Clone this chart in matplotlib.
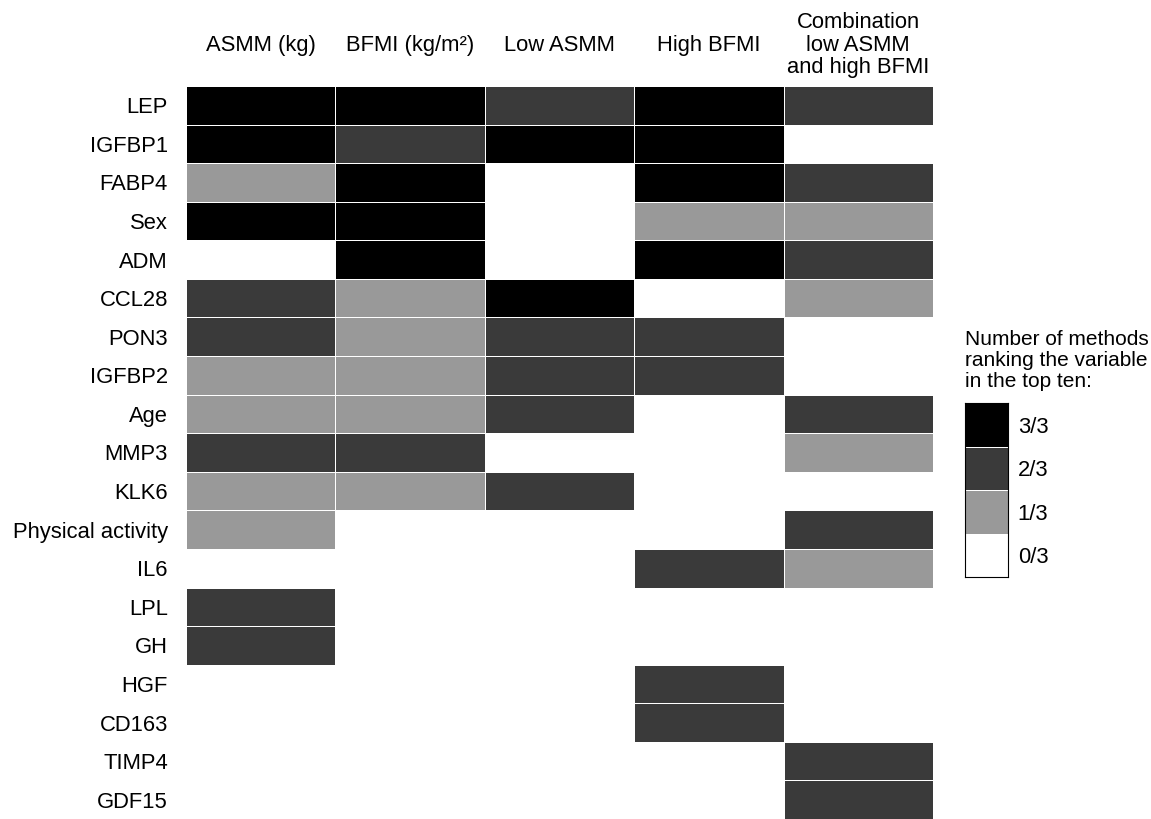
import matplotlib
matplotlib.use("Agg")
import matplotlib.pyplot as plt
import numpy as np
from matplotlib.colors import ListedColormap, BoundaryNorm

plt.rcParams['font.family'] = ['Liberation Sans', 'DejaVu Sans']

columns = ["ASMM (kg)", "BFMI (kg/m²)", "Low ASMM", "High BFMI",
           "Combination\nlow ASMM\nand high BFMI"]
rows = ["LEP", "IGFBP1", "FABP4", "Sex", "ADM", "CCL28", "PON3", "IGFBP2",
        "Age", "MMP3", "KLK6", "Physical activity", "IL6", "LPL", "GH",
        "HGF", "CD163", "TIMP4", "GDF15"]
asmm = [3, 3, 1, 3, 0, 2, 2, 1, 1, 2, 1, 1, 0, 2, 2, 0, 0, 0, 0]
bfmi = [3, 2, 3, 3, 3, 1, 1, 1, 1, 2, 1, 0, 0, 0, 0, 0, 0, 0, 0]
low_asmm = [2, 3, 0, 0, 0, 3, 2, 2, 2, 0, 2, 0, 0, 0, 0, 0, 0, 0, 0]
high_bfmi = [3, 3, 3, 1, 3, 0, 2, 2, 0, 0, 0, 0, 2, 0, 0, 2, 2, 0, 0]
combination = [2, 0, 2, 1, 2, 1, 0, 0, 2, 1, 0, 2, 1, 0, 0, 0, 0, 2, 2]
legend_labels = ["3/3", "2/3", "1/3", "0/3"]
legend_values = [3, 2, 1, 0]

colors = ["#ffffff", "#999999", "#3a3a3a", "#000000"]
cmap = ListedColormap(colors)
norm = BoundaryNorm([-0.5, 0.5, 1.5, 2.5, 3.5], 4)

data = np.array([asmm, bfmi, low_asmm, high_bfmi, combination]).T

W, H = 1151, 819
FS = 15.8
fig = plt.figure(figsize=(W / 100, H / 100), dpi=100)
ax = fig.add_axes([186 / W, 0 / H, (933 - 186) / W, (819 - 86) / H])
ax.pcolormesh(np.arange(data.shape[1] + 1), np.arange(data.shape[0] + 1), data,
              cmap=cmap, norm=norm, edgecolors="white", linewidth=0.6)
ax.set_xlim(0, data.shape[1])
ax.set_ylim(data.shape[0], 0)
for s in ax.spines.values():
    s.set_visible(False)
ax.set_yticks(np.arange(data.shape[0]) + 0.5)
ax.set_yticklabels(rows, fontsize=FS)
ax.tick_params(axis="y", length=0, pad=13)
ax.set_xticks([])

# column headers (baseline of last line; multi-line header extends upward)
for i, c in enumerate(columns):
    x_fig = (186 + (i + 0.5) * (933 - 186) / len(columns)) / W
    nlines = c.count("\n") + 1
    base_px = 51 if nlines == 1 else 73
    fig.text(x_fig, 1 - base_px / H, c, fontsize=FS, ha="center", va="baseline",
             multialignment="center", linespacing=1.09)

# legend
lax = fig.add_axes([965 / W, (819 - 577) / H, (1008 - 965) / W, (577 - 403) / H])
lv = np.array(legend_values).reshape(-1, 1)
lax.pcolormesh(np.arange(2), np.arange(len(lv) + 1), lv, cmap=cmap, norm=norm,
               edgecolors="white", linewidth=0.6)
lax.set_xlim(0, 1)
lax.set_ylim(len(lv), 0)
lax.set_xticks([])
lax.set_yticks(np.arange(len(lv)) + 0.5)
lax.set_yticklabels(legend_labels, fontsize=FS)
lax.yaxis.tick_right()
lax.tick_params(axis="y", length=0, pad=7)
for s in lax.spines.values():
    s.set_linewidth(0.8)
    s.set_color("#000000")

fig.text(965 / W, 1 - 330 / H, "Number of methods\nranking the variable\nin the top ten:",
         fontsize=15.0, va="top", ha="left", linespacing=1.14)

fig.savefig("out.png", dpi=100)
